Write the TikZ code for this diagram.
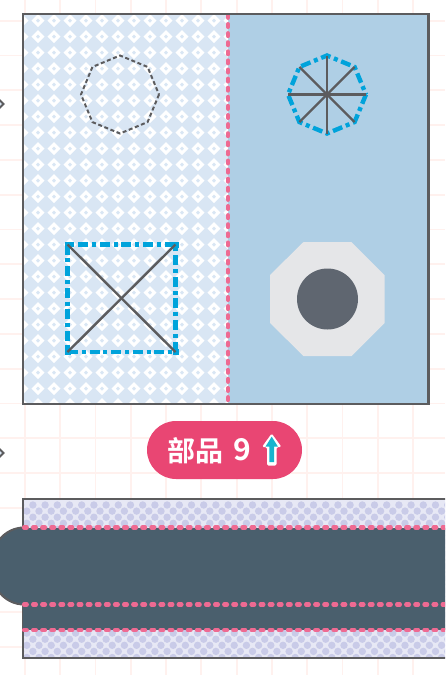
\documentclass[tikz,border=0pt]{standalone}
\usepackage{fontspec}
\newfontfamily\cjkfont{Noto Sans CJK SC}[BoldFont={* Bold}]
\usetikzlibrary{calc}
\definecolor{gridc}{HTML}{FFF1EE}
\definecolor{edgec}{HTML}{5C5C5E}
\definecolor{paleblue}{HTML}{D9E6F4}
\definecolor{midblue}{HTML}{AFCFE5}
\definecolor{pinkc}{HTML}{EE6A92}
\definecolor{cyanc}{HTML}{00A3DB}
\definecolor{slatec}{HTML}{4A5F6D}
\definecolor{lavc}{HTML}{C9CBE8}
\definecolor{octc}{HTML}{E5E6E8}
\definecolor{hubc}{HTML}{5F6670}
\definecolor{pillc}{HTML}{E94673}
\definecolor{arrowc}{HTML}{17B5CE}
\tikzset{
  gridline/.style={gridc,line width=1.8pt},
  outline/.style={edgec,line width=2.6pt,line join=miter},
  pinkdash/.style={pinkc,line width=4.2pt,line cap=round,dash pattern=on 2.8pt off 6.3pt},
  bluedash/.style={cyanc,line width=4.4pt,dash pattern=on 10pt off 3.8pt on 4pt off 3.8pt},
  greydash/.style={edgec,line width=2pt,dash pattern=on 4pt off 2.6pt},
  spoke/.style={edgec,line width=2.4pt},
  motif/.style={white,line width=3pt,line join=miter},
  pill/.style={fill=pillc,rounded corners=29pt,minimum width=155pt,minimum height=58pt,inner sep=0pt},
  labeltxt/.style={text=white,anchor=center,inner sep=0pt}
}
\begin{document}
\begin{tikzpicture}[x=1pt,y=-1pt]
\useasboundingbox (0,0) rectangle (445,675);
\clip (0,0) rectangle (445,675);
\fill[white] (0,0) rectangle (445,675);
% background grid
\foreach \i in {0,...,12} \draw[gridline] ({25+35.27*\i},0) -- ({25+35.27*\i},675);
\foreach \j in {0,...,18} \draw[gridline] (0,{20.7+34.8*\j}) -- (445,{20.7+34.8*\j});
% small marks cut by the left edge
\foreach \yy in {104,453}
  \draw[edgec,line width=1.8pt,fill=paleblue] (-1.5,\yy-5) -- (3.5,\yy) -- (-1.5,\yy+5) -- (-6.5,\yy) -- cycle;
% upper panel
\fill[paleblue] (23,14) rectangle (228,404);
\fill[midblue] (228,14) rectangle (428.5,404);
\begin{scope}
  \clip (23,14) rectangle (228,404);
  \foreach \i in {0,...,13} \foreach \j in {0,...,24}
    \draw[motif] ({22+16*\i},{20.7+16*\j-4.4}) -- ({22+16*\i+4.4},{20.7+16*\j}) -- ({22+16*\i},{20.7+16*\j+4.4}) -- ({22+16*\i-4.4},{20.7+16*\j}) -- cycle;
\end{scope}
\draw[pinkdash] (228,15) -- (228,403);
\draw[outline] (23,14) rectangle (428.5,404);
% dashed octagon
\draw[greydash] (159,94.5)
  \foreach \a in {45,90,...,315} { -- ($(120,94.5)+(\a:39)$) } -- cycle;
% spoked octagon
\draw[bluedash] (366,94.5)
  \foreach \a in {45,90,...,315} { -- ($(327,94.5)+(\a:39)$) } -- cycle;
\foreach \a in {0,45,90,135}
  \draw[spoke] ($(327,94.5)+(\a:39)$) -- ($(327,94.5)+(\a+180:39)$);
% crossed square
\draw[bluedash] (67.5,244.5) rectangle (175.5,352);
\foreach \cx/\cy in {67.5/244.5,175.5/244.5,67.5/352,175.5/352}
  \fill[cyanc] (\cx-3,\cy-3) rectangle (\cx+3,\cy+3);
\draw[spoke] (67.5,244.5) -- (175.5,352);
\draw[spoke] (175.5,244.5) -- (67.5,352);
% large octagon
\fill[octc] (303.5,242) -- (351.5,242) -- (384.5,275) -- (384.5,323) -- (351.5,356) -- (303.5,356) -- (270,323) -- (270,275) -- cycle;
\fill[hubc] (327.5,299) circle (30.5);
% label pill
\node[pill] (label) at (224.5,450) {};
\node[labeltxt,font=\cjkfont\bfseries\fontsize{28}{28}\selectfont] (labeltext) at (195,450.5) {部品};
\node[labeltxt,font=\cjkfont\bfseries\fontsize{30}{30}\selectfont] (labelnum) at (242,450) {9};
\fill[white,rounded corners=1.5pt] (271.7,433.5) -- (281.5,447) -- (276.7,447) -- (276.7,465.5) -- (267,465.5) -- (267,447) -- (262,447) -- cycle;
\fill[arrowc] (271.7,436.7) -- (278,446.7) -- (274.2,446.7) -- (274.2,462) -- (269.4,462) -- (269.4,446.7) -- (265.4,446.7) -- cycle;
% lower band
\fill[white] (23,499) rectangle (446,658);
\begin{scope}
  \clip (23,499) rectangle (446,658);
  \fill[lavc!45] (23,499) rectangle (446,658);
  \foreach \i in {0,...,36} \foreach \j in {0,...,13} {
    \fill[lavc] ({20.7+12.2*\i},{505+12.2*\j}) circle (3.7);
    \fill[lavc] ({26.8+12.2*\i},{511.1+12.2*\j}) circle (3.7);
  }
\end{scope}
\draw[outline] (446,499) -- (23,499) -- (23,658) -- (446,658);
\fill[slatec] (23,527.5) rectangle (446,630);
\draw[edgec,line width=2pt,fill=slatec] (24,527.5) .. controls (5,527.5) and (-10,545) .. (-10,566) .. controls (-10,587) and (5,604.5) .. (24,604.5);
\fill[slatec] (20,529) rectangle (30,603.5);
\draw[pinkdash] (24,527.5) -- (446,527.5);
\draw[pinkdash] (24,604.5) -- (446,604.5);
\draw[pinkdash] (24,630) -- (446,630);
\end{tikzpicture}
\end{document}
